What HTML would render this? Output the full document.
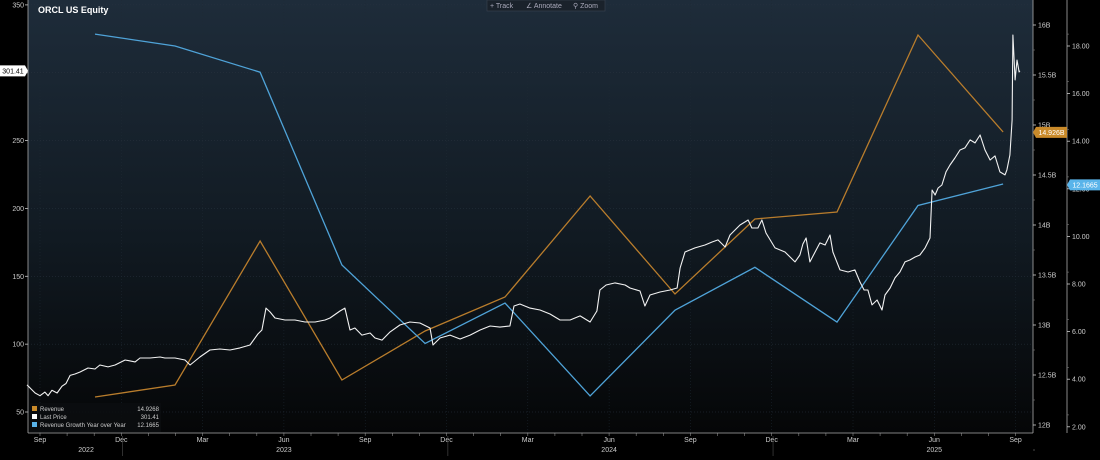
<!DOCTYPE html>
<html><head><meta charset="utf-8"><style>
html,body{margin:0;padding:0;background:#000;}
svg{display:block;font-family:"Liberation Sans",sans-serif;}
</style></head><body>
<svg id="chart" width="1100" height="460" viewBox="0 0 1100 460" xmlns="http://www.w3.org/2000/svg">
<defs>
<linearGradient id="bg" x1="0" y1="0" x2="0" y2="1">
<stop offset="0" stop-color="#1e2c3a"/><stop offset="0.55" stop-color="#111a22"/><stop offset="1" stop-color="#050607"/>
</linearGradient>
</defs>
<rect x="0" y="0" width="1100" height="460" fill="#000"/>
<rect x="28" y="0" width="1005" height="433" fill="url(#bg)"/>
<g id="grid"></g>
<g id="axes"></g>
<g id="series"></g>
<text x="38" y="13" fill="#fff" font-size="9" font-weight="bold">ORCL US Equity</text>
<g>
<rect x="487" y="0" width="118" height="11" fill="#1a222b" stroke="#3a4450" stroke-width="0.6"/>
<text x="490" y="8" fill="#aab" font-size="7">+ Track</text>
<text x="526" y="8" fill="#aab" font-size="7">∠ Annotate</text>
<text x="573" y="8" fill="#aab" font-size="7">⚲ Zoom</text>
</g>
<g>
<rect x="30" y="403" width="131" height="29" fill="#0b0d10" opacity="0.9"/>
<rect x="32" y="406" width="5" height="5" fill="#c98a2a"/>
<text x="40" y="411" fill="#ccc" font-size="6">Revenue</text><text x="159" y="411" fill="#ccc" font-size="6" text-anchor="end">14.9268</text>
<rect x="32" y="414" width="5" height="5" fill="#fff"/>
<text x="40" y="419" fill="#ccc" font-size="6">Last Price</text><text x="159" y="419" fill="#ccc" font-size="6" text-anchor="end">301.41</text>
<rect x="32" y="422" width="5" height="5" fill="#5ab4ea"/>
<text x="40" y="427" fill="#ccc" font-size="6">Revenue Growth Year over Year</text><text x="159" y="427" fill="#ccc" font-size="6" text-anchor="end">12.1665</text>
</g>
<g id="tags"></g>
</svg>
<script>
// months since Sep 2022
const priceMonths=[-0.48,-0.18,0,.18,.30,.44,.63,.81,.96,1.11,1.29,1.48,1.77,2.03,2.21,2.51,2.77,3.14,3.51,3.69,4.06,4.43,4.61,4.98,5.35,5.54,5.90,6.27,6.64,7.01,7.38,7.75,8.04,8.19,8.34,8.49,8.67,9.04,9.41,9.78,10.15,10.52,10.70,11.07,11.25,11.44,11.62,11.88,12.18,12.36,12.62,12.92,13.28,13.65,14.02,14.39,14.50,14.76,15.13,15.50,15.87,16.24,16.61,16.97,17.34,17.49,17.71,18.08,18.45,18.82,19.19,19.56,19.93,20.30,20.55,20.66,20.89,21.22,21.59,21.77,22.14,22.32,22.51,22.88,23.25,23.51,23.62,23.80,24.17,24.54,24.80,25.02,25.28,25.46,25.83,26.13,26.27,26.49,26.64,26.79,27.12,27.49,27.86,28.04,28.15,28.27,28.41,28.60,28.78,28.97,29.15,29.26,29.52,29.82,30.07,30.26,30.41,30.55,30.70,30.89,31.07,31.18,31.37,31.55,31.73,31.92,32.10,32.29,32.47,32.66,32.84,32.92,33.03,33.14,33.28,33.43,33.58,33.76,33.95,34.13,34.32,34.50,34.69,34.87,35.06,35.24,35.42,35.61,35.68,35.79,35.87,35.90,35.98,36.05,36.13,36.16];
const priceValues=[70,64,62,64.7,62,66,64,69,71,77,78,79.5,82.4,81.7,84.6,83.2,84.6,88.3,86.9,89.8,89.8,90.5,89.8,89.8,88.3,84.6,90.5,95.7,96.4,95.7,97.2,99.4,107.5,110.4,126.6,123.7,119.3,117.8,117.8,116.3,116.3,117.8,119.3,124.4,126.6,110.4,111.9,106.7,108.2,104.5,103,109,114.1,116.3,115.6,111.9,99.4,104.5,106.7,103.8,106.7,110.4,113.4,112.6,113.4,128.1,129.6,126.6,125.2,122.2,117.8,117.8,120.8,116.3,124.4,139.9,143.6,145.1,143.6,141.4,139.2,128.1,136.2,138.4,139.9,141.4,156.1,167.9,170.9,173.1,175.3,176.8,171.6,180.4,187.8,191.5,185.6,185.6,191.5,181.9,170.9,167.9,160.6,165.7,173.8,178.2,160.6,167.9,174.6,173.1,180.4,167.9,154.7,153.2,154.7,145.8,139.9,139.9,128.9,132.5,125.2,136.2,141.4,148.8,153.2,160.6,162,164.2,165.7,170.9,178.2,213.6,209.9,215.1,217.3,226.9,232,237.2,243.1,244.6,250.5,248.3,254.1,243.1,235.7,238.7,226.9,224.7,228.4,239.4,265.2,327.8,294.7,309.4,300.6,301.41];
const qtrMonths=[2.03,4.98,8.12,11.14,14.21,17.16,20.30,23.43,26.38,29.41,32.40,35.54];
const revenueB=[12.28,12.40,13.84,12.45,12.94,13.28,14.29,13.31,14.06,14.13,15.90,14.93];
const growthYoY=[18.5,18.0,16.9,8.8,5.5,7.2,3.3,6.9,8.7,6.4,11.3,12.2];
const priceTicks=[50,100,150,200,250,300,350];
const revTicks=[12,12.5,13,13.5,14,14.5,15,15.5,16];
const growthTicks=[2,4,6,8,10,12,14,16,18];
const monthTicks=[[0,"Sep"],[3,"Dec"],[6,"Mar"],[9,"Jun"],[12,"Sep"],[15,"Dec"],[18,"Mar"],[21,"Jun"],[24,"Sep"],[27,"Dec"],[30,"Mar"],[33,"Jun"],[36,"Sep"]];
const yearLabels=[[1.7,"2022"],[9,"2023"],[21,"2024"],[33,"2025"]];
const yearBreaks=[3.05,15.05,27.05];

const NS="http://www.w3.org/2000/svg";
const X=m=>40+m*27.1;
const YP=v=>412-(v-50)*1.357;
const YR=v=>25+(16-v)*100;
const YG=v=>46+(18-v)*23.8;
function mk(tag,attrs,parent){const e=document.createElementNS(NS,tag);for(const k in attrs)e.setAttribute(k,attrs[k]);parent.appendChild(e);return e;}
const grid=document.getElementById('grid'),axes=document.getElementById('axes'),series=document.getElementById('series'),tags=document.getElementById('tags');

priceTicks.forEach(v=>{
  const y=YP(v);
  const g=mk('line',{x1:28,x2:1033,y1:y,y2:y,stroke:'#2a3440','stroke-width':0.5,'stroke-dasharray':'1 2'},grid);
  
  
  if(v<350||true){const t=mk('text',{x:24,y:y+2.5,fill:'#ccc','font-size':7,'text-anchor':'end'},axes);t.textContent=v;
  
  }
  mk('line',{x1:25,x2:28,y1:y,y2:y,stroke:'#ccc','stroke-width':0.8},axes);
});
for(let i=0;i<=36;i++){const x=X(i);
  mk('line',{x1:x,x2:x,y1:433,y2:436,stroke:'#888','stroke-width':0.6},axes);}
monthTicks.forEach(([m,l])=>{
  const x=X(m);
  const g=mk('line',{x1:x,x2:x,y1:0,y2:433,stroke:'#1f2a35','stroke-width':0.5,'stroke-dasharray':'1 2'},grid);
  
  
  const t=mk('text',{x:x,y:442,fill:'#ccc','font-size':7,'text-anchor':'middle'},axes);t.textContent=l;
  
  
});
yearLabels.forEach(([m,l])=>{const t=mk('text',{x:X(m),y:452,fill:'#ccc','font-size':7,'text-anchor':'middle'},axes);t.textContent=l;
  
  });
yearBreaks.forEach(m=>mk('line',{x1:X(m),x2:X(m),y1:436,y2:456,stroke:'#444','stroke-width':0.7},axes));
mk('line',{x1:28,x2:28,y1:0,y2:433,stroke:'#aaa','stroke-width':0.8},axes);
mk('line',{x1:28,x2:1033,y1:433,y2:433,stroke:'#aaa','stroke-width':0.8},axes);
mk('line',{x1:1033,x2:1033,y1:0,y2:433,stroke:'#aaa','stroke-width':0.8},axes);
mk('line',{x1:1067,x2:1067,y1:0,y2:433,stroke:'#aaa','stroke-width':0.8},axes);
revTicks.forEach(v=>{const y=YR(v);
  mk('line',{x1:1033,x2:1036,y1:y,y2:y,stroke:'#ccc','stroke-width':0.8},axes);
  mk('line',{x1:1033,x2:1035,y1:y+25,y2:y+25,stroke:'#777','stroke-width':0.6},axes);
  const t=mk('text',{x:1038,y:y+2.5,fill:'#ccc','font-size':7},axes);t.textContent=(v%1===0?v:v.toFixed(1))+'B';
  
  });
growthTicks.forEach(v=>{const y=YG(v);
  mk('line',{x1:1067,x2:1070,y1:y,y2:y,stroke:'#ccc','stroke-width':0.8},axes);
  mk('line',{x1:1067,x2:1069,y1:y-11.9,y2:y-11.9,stroke:'#777','stroke-width':0.6},axes);
  const t=mk('text',{x:1072,y:y+2.5,fill:'#ccc','font-size':7},axes);t.textContent=v.toFixed(2);
  
  });

function path(xs,ys,fy){return xs.map((m,i)=>(i?'L':'M')+X(m).toFixed(1)+' '+fy(ys[i]).toFixed(1)).join(' ');}
const rev=mk('path',{d:path(qtrMonths,revenueB,YR),fill:'none',stroke:'#b97d2c','stroke-width':1.3},series);


const gr=mk('path',{d:path(qtrMonths,growthYoY,YG),fill:'none',stroke:'#4fa3d8','stroke-width':1.3},series);


const pr=mk('path',{d:path(priceMonths,priceValues,YP),fill:'none',stroke:'#f2f2f2','stroke-width':1.1,'stroke-linejoin':'round'},series);



// value tags
function tag(x,y,w,txt,bg,fg,name){
  const g=mk('g',{},tags);
  
  
  mk('path',{d:`M${x} ${y} l3 -5.5 h${w} v11 h-${w} z`,fill:bg},g);
  const t=mk('text',{x:x+3+w/2,y:y+2.5,fill:fg,'font-size':7,'text-anchor':'middle'},g);t.textContent=txt;
}
const lp=priceValues[priceValues.length-1];
const g0=mk('g',{},tags);


const ly=YP(lp);
mk('path',{d:`M0 ${ly-5.5} h25 l3 5.5 l-3 5.5 h-25 z`,fill:'#fff'},g0);
const t0=mk('text',{x:13,y:ly+2.5,fill:'#000','font-size':7,'text-anchor':'middle'},g0);t0.textContent=lp.toFixed(2);
tag(1033,YR(14.9268),31,'14.926B','#c98a2a','#fff','revenue-tag');
tag(1067,YG(12.1665),30,'12.1665','#5ab4ea','#fff','growth-tag');
</script>
</body></html>
